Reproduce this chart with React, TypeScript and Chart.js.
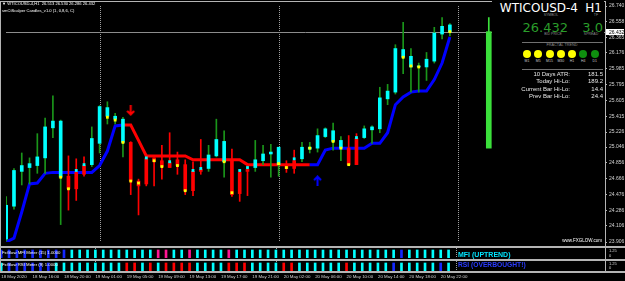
import React, { useEffect, useRef } from 'react';
import { Chart, registerables } from 'chart.js';

Chart.register(...registerables);
Chart.defaults.font.family = "'Liberation Sans', Arial, sans-serif";

// ---------------- data ----------------
const timeLabelBars = [0, 4, 8, 12, 16, 20, 24, 28, 32, 36, 40, 44, 48, 52, 56];
const timeLabels = ['18 May 2020', '18 May 16:00', '18 May 20:00', '19 May 01:00', '19 May 05:00', '19 May 09:00', '19 May 13:00', '19 May 17:00', '19 May 21:00', '20 May 02:00', '20 May 06:00', '20 May 10:00', '20 May 14:00', '20 May 18:00', '20 May 22:00'];
const daySeparatorBars = [12, 35, 58];
const priceTicks = [26.740, 26.558, 26.365, 26.176, 25.985, 25.795, 25.605, 25.415, 25.226, 25.046, 24.856, 24.666, 24.476, 24.286, 24.106, 23.906];
const priceMin = 23.906;
const priceMax = 26.740;
const bidPrice = 26.432;

const opens = [23.941, 24.336, 24.754, 24.800, 24.824, 24.916, 25.277, 24.684, 24.696, 24.742,
  24.824, 24.835, 25.091, 25.416, 25.381, 25.102, 25.102, 24.638, 24.905, 24.916,
  24.882, 24.858, 24.893, 24.835, 24.754, 24.777, 24.789, 24.940, 24.870, 24.893,
  24.742, 24.777, 24.800, 24.882, 24.963, 24.835, 24.835, 24.882, 24.905, 25.021,
  25.033, 25.172, 25.114, 25.033, 25.033, 25.149, 25.160, 25.253, 25.265, 25.625,
  25.706, 26.124, 26.008, 26.008, 26.008, 26.078, 26.403, 26.513];
const highs = [24.452, 24.789, 24.975, 24.916, 25.207, 25.393, 25.660, 25.370, 24.940, 24.905,
  24.928, 25.288, 25.544, 25.590, 25.451, 25.404, 25.110, 24.661, 24.951, 24.916,
  25.067, 25.218, 24.986, 24.893, 24.870, 25.137, 25.067, 25.381, 25.242, 25.021,
  24.765, 24.812, 25.126, 25.067, 25.079, 25.044, 24.882, 25.009, 25.102, 25.102,
  25.265, 25.277, 25.335, 25.172, 25.184, 25.207, 25.300, 25.300, 25.764, 25.799,
  26.275, 26.543, 26.229, 26.055, 26.182, 26.484, 26.601, 26.530];
const lows = [23.918, 24.301, 24.591, 24.603, 24.731, 24.731, 25.160, 24.115, 24.289, 24.405,
  24.696, 24.812, 24.975, 25.323, 25.323, 24.928, 24.475, 24.231, 24.580, 24.580,
  24.661, 24.800, 24.719, 24.475, 24.463, 24.719, 24.754, 24.928, 24.684, 24.452,
  24.394, 24.463, 24.754, 24.835, 24.684, 24.696, 24.742, 24.731, 24.870, 24.975,
  24.986, 25.160, 25.009, 24.882, 24.835, 24.835, 25.149, 25.091, 25.218, 25.555,
  25.683, 25.927, 25.706, 25.706, 25.846, 26.055, 26.345, 26.380];
const closes = [24.347, 24.765, 24.824, 24.847, 24.928, 25.288, 25.358, 25.358, 24.545, 24.545,
  24.719, 25.149, 25.532, 25.520, 25.416, 25.381, 24.638, 24.580, 24.603, 24.870,
  24.812, 24.800, 24.824, 24.522, 24.522, 24.754, 24.951, 25.137, 25.114, 24.475,
  24.487, 24.754, 24.893, 24.963, 24.986, 25.044, 24.789, 24.789, 25.044, 25.044,
  25.184, 25.265, 25.242, 25.126, 24.835, 24.835, 25.265, 25.288, 25.637, 25.718,
  26.229, 26.217, 26.136, 26.020, 26.101, 26.415, 26.496, 26.432];
// u = cyan body / green wick, d = red body / red wick
const candleKinds = 'uuuuuuuu' + 'ddd' + 'uuuuu' + 'dddddddddd' + 'uuu' + 'ddd' + 'uuuu' + 'dd' + 'uuuuuu' + 'dd' + 'uuuuuuuuuuuu';

const trendLine = [23.906, 23.952, 24.266, 24.603, 24.614, 24.731, 24.742, 24.742, 24.742, 24.742,
  24.742, 24.742, 24.824, 24.998, 25.300, 25.311, 25.311, 25.126, 24.940, 24.940,
  24.940, 24.940, 24.940, 24.940, 24.893, 24.893, 24.893, 24.893, 24.893, 24.893,
  24.893, 24.835, 24.835, 24.835, 24.835, 24.835, 24.835, 24.835, 24.835, 24.835,
  24.835, 25.009, 25.033, 25.033, 25.033, 25.033, 25.033, 25.091, 25.091, 25.218,
  25.555, 25.648, 25.706, 25.718, 25.718, 25.857, 26.055, 26.368];
const trendDirs = 'uuuuuuuuuuuuuuu' + 'dddddddddddddddddddddddd' + 'uuuuuuuuuuuuuuuuuuu';

const yellowBars = [7, 8, 13, 14, 15, 16, 17, 19, 20, 22, 23, 28, 29, 35, 36, 39, 42, 43, 44, 51, 52, 53, 57];
const yellowPrices = [24.684, 24.545, 25.404, 25.370, 25.102, 24.638, 24.614, 24.882, 24.812, 24.824, 24.522, 24.870, 24.498, 24.847, 24.800, 25.033, 25.114, 25.033, 24.835, 26.124, 26.020, 26.008, 26.432];
const capBars = [9, 10, 18, 21, 24, 25, 30, 31, 37, 45];
const capPrices = [24.765, 24.835, 24.916, 24.870, 24.765, 24.789, 24.765, 24.800, 24.905, 25.160];
const sellArrowBars = [16];
const sellArrowPrices = [25.486];
const buyArrowBars = [40];
const buyArrowPrices = [24.643];

const rangeBarIndex = 62;
const rangeLow = 25.033;
const rangeHigh = 26.432;
const rangeTop = 26.601;

const meterLevel = 1;
const mfiStates = 'bbbbbbbbb' + 'ccccccccccc' + 'mm' + 'cc' + 'm' + 'cccc' + 'm' + 'ccccccccccccccccccccc' + 'b' + 'cccccc';
const rsiStates = 'c' + 'bbbbbb' + 'ccccccccc' + 'rr' + 'c' + 'r' + 'c' + 'rrrr' + 'cccc' + 'rrr' + 'cccc' + 'rr' + 'cccccc' + 'r' + 'ccccc' + 'b' + 'ccccc' + 'b' + 'c';

const fractalFrames = ['M1', 'M5', 'M15', 'M30', 'H1', 'H4', 'D1'];
const fractalStates = ['y', 'y', 'y', 'y', 'y', 'g', 'g'];
const statLabels = ['10 Days ATR:', 'Today Hi-Lo:', 'Current Bar Hi-Lo:', 'Prev Bar Hi-Lo:'];
const statValues = ['181.5', '189.2', '14.4', '24.4'];

// ---------------- styling ----------------
const xMin = -0.025;
const xMax = 76.93;
const CYAN = '#00ffff';
const RED = '#ff0000';
const BLUE = '#0000ff';
const WICK_GREEN = '#1a961a';
const YELLOW = '#ffff00';
const LIME = '#3be03b';
const FRAME = '#b4b4b4';
const AXIS_TXT = '#d2d2d2';
const METER_COLORS: Record<string, string> = { c: '#00ffff', b: '#1428ff', m: '#ff1493', r: '#ff0000' };
const FRACTAL_COLORS: Record<string, string> = { y: '#ffff00', g: '#0f8f0f' };

const separatorPlugin = {
  id: 'daySeparators',
  beforeDatasetsDraw(chart: any) {
    const { ctx, chartArea: a, scales } = chart;
    ctx.save();
    ctx.strokeStyle = '#a0a0a0';
    ctx.lineWidth = 1;
    ctx.setLineDash([1, 1]);
    for (const b of daySeparatorBars) {
      const x = Math.round(scales.x.getPixelForValue(b)) + 0.5;
      ctx.beginPath();
      ctx.moveTo(x, a.top);
      ctx.lineTo(x, a.bottom);
      ctx.stroke();
    }
    ctx.restore();
  },
};

const bidPlugin = {
  id: 'bidLine',
  beforeDatasetsDraw(chart: any) {
    const { ctx, chartArea: a, scales } = chart;
    const y = Math.round(scales.y.getPixelForValue(bidPrice)) + 0.5;
    ctx.save();
    ctx.strokeStyle = '#8c8c8c';
    ctx.lineWidth = 1;
    ctx.beginPath();
    ctx.moveTo(a.left, y);
    ctx.lineTo(a.right, y);
    ctx.stroke();
    ctx.restore();
  },
  afterDraw(chart: any) {
    const { ctx, scales, chartArea: a } = chart;
    const y = Math.round(scales.y.getPixelForValue(bidPrice));
    ctx.save();
    ctx.fillStyle = '#ffffff';
    ctx.fillRect(a.right + 1, y - 3, 18, 6);
    ctx.fillStyle = '#000000';
    ctx.font = "5px 'Liberation Sans', Arial, sans-serif";
    ctx.textBaseline = 'middle';
    ctx.fillText(bidPrice.toFixed(3), a.right + 4, y + 0.5);
    ctx.restore();
  },
};

function makeArrow(color: string, up: boolean) {
  const c = document.createElement('canvas');
  c.width = 9;
  c.height = 11;
  const g = c.getContext('2d') as CanvasRenderingContext2D;
  g.strokeStyle = color;
  g.lineWidth = 2;
  g.beginPath();
  if (up) {
    g.moveTo(4.5, 1.5); g.lineTo(4.5, 11);
    g.moveTo(1, 5); g.lineTo(4.5, 1.5); g.lineTo(8, 5);
  } else {
    g.moveTo(4.5, 0); g.lineTo(4.5, 9.5);
    g.moveTo(1, 6); g.lineTo(4.5, 9.5); g.lineTo(8, 6);
  }
  g.stroke();
  return c;
}

const hiddenX = { type: 'linear', min: xMin, max: xMax, offset: false, display: false };

function makeMain(canvas: HTMLCanvasElement) {
  const idx = highs.map((_, i) => i);
  const sellArrow = makeArrow(RED, false);
  const buyArrow = makeArrow(BLUE, true);
  return new Chart(canvas, {
    type: 'bar',
    data: {
      datasets: [
        {
          type: 'line',
          data: idx.map((i) => ({ x: i, y: trendLine[i] })),
          borderColor: BLUE,
          borderWidth: 3,
          pointRadius: 0,
          tension: 0,
          segment: { borderColor: (c: any) => (trendDirs[c.p0DataIndex] === 'u' ? BLUE : RED) },
          order: 6,
        },
        {
          type: 'bar',
          data: idx.map((i) => ({ x: i, y: [lows[i], highs[i]] })),
          backgroundColor: idx.map((i) => (candleKinds[i] === 'u' ? WICK_GREEN : RED)),
          barThickness: 1,
          borderWidth: 0,
          grouped: false,
          order: 5,
        },
        {
          type: 'bar',
          data: idx.map((i) => ({ x: i, y: [Math.min(opens[i], closes[i]), Math.max(opens[i], closes[i])] })),
          backgroundColor: idx.map((i) => (candleKinds[i] === 'u' ? CYAN : RED)),
          barThickness: 3,
          minBarLength: 1,
          borderWidth: 0,
          grouped: false,
          order: 4,
        },
        {
          type: 'bar',
          data: [{ x: rangeBarIndex, y: [rangeHigh, rangeTop] }],
          backgroundColor: LIME,
          barThickness: 1,
          borderWidth: 0,
          grouped: false,
          order: 5,
        },
        {
          type: 'bar',
          data: [{ x: rangeBarIndex, y: [rangeLow, rangeHigh] }],
          backgroundColor: LIME,
          barThickness: 5,
          borderWidth: 0,
          grouped: false,
          order: 4,
        },
        {
          type: 'line',
          showLine: false,
          data: capBars.map((b, k) => ({ x: b, y: capPrices[k] })),
          pointStyle: 'rect',
          pointRadius: 2,
          backgroundColor: CYAN,
          borderWidth: 0,
          order: 2,
        },
        {
          type: 'line',
          showLine: false,
          data: yellowBars.map((b, k) => ({ x: b, y: yellowPrices[k] })),
          pointStyle: 'rect',
          pointRadius: 2,
          backgroundColor: YELLOW,
          borderWidth: 0,
          order: 1,
        },
        {
          type: 'line',
          showLine: false,
          data: sellArrowBars.map((b, k) => ({ x: b, y: sellArrowPrices[k] })),
          pointStyle: sellArrow,
          pointRadius: 5,
          order: 0,
        },
        {
          type: 'line',
          showLine: false,
          data: buyArrowBars.map((b, k) => ({ x: b, y: buyArrowPrices[k] })),
          pointStyle: buyArrow,
          pointRadius: 5,
          order: 0,
        },
      ] as any,
    },
    options: {
      animation: false,
      responsive: false,
      events: [],
      layout: { padding: { left: 1, top: 2, right: 0, bottom: 3 } },
      plugins: { legend: { display: false }, tooltip: { enabled: false } },
      scales: {
        x: hiddenX as any,
        y: {
          position: 'right',
          min: priceMin,
          max: priceMax,
          afterBuildTicks: (s: any) => {
            s.ticks = priceTicks.map((v) => ({ value: v }));
          },
          afterFit: (s: any) => {
            s.width = 20;
            s.paddingTop = 0;
            s.paddingBottom = 0;
          },
          ticks: {
            autoSkip: false,
            padding: 2,
            color: AXIS_TXT,
            font: { size: 5 },
            callback: (v: any) => Number(v).toFixed(3),
          },
          grid: { drawOnChartArea: false, drawTicks: true, tickLength: 2, color: FRAME },
          border: { display: false },
        } as any,
      },
    },
    plugins: [separatorPlugin, bidPlugin],
  } as any);
}

function makeMeter(canvas: HTMLCanvasElement, states: string, showX: boolean) {
  const idx = states.split('').map((_, i) => i);
  const x = showX
    ? {
        type: 'linear',
        min: xMin,
        max: xMax,
        offset: false,
        position: 'bottom',
        afterBuildTicks: (s: any) => {
          s.ticks = timeLabelBars.map((v) => ({ value: v }));
        },
        afterFit: (s: any) => {
          s.height = 9;
          s.paddingLeft = 0;
          s.paddingRight = 0;
        },
        ticks: {
          autoSkip: false,
          maxRotation: 0,
          minRotation: 0,
          align: 'start',
          padding: 1,
          color: AXIS_TXT,
          font: { size: 4.4 },
          callback: (_v: any, i: number) => timeLabels[i],
        },
        grid: { drawOnChartArea: false, drawTicks: true, tickLength: 2, color: FRAME, offset: false },
        border: { display: false },
      }
    : hiddenX;
  return new Chart(canvas, {
    type: 'bar',
    data: {
      datasets: [
        {
          data: idx.map((i) => ({ x: i, y: [0, meterLevel] })),
          backgroundColor: idx.map((i) => METER_COLORS[states[i]]),
          barThickness: 2,
          borderWidth: 0,
          grouped: false,
        },
      ] as any,
    },
    options: {
      animation: false,
      responsive: false,
      events: [],
      layout: { padding: { left: 1, right: 20, top: 0, bottom: 0 } },
      plugins: { legend: { display: false }, tooltip: { enabled: false } },
      scales: {
        x: x as any,
        y: { min: 0, max: 1.25, display: false },
      },
    },
    plugins: [separatorPlugin],
  } as any);
}

type TxtProps = {
  x: number;
  y: number;
  s: number;
  c: string;
  a?: 'l' | 'r' | 'c';
  b?: boolean;
  f?: string;
  children: string;
};

function Txt({ x, y, s, c, a = 'l', b = false, f = "'Liberation Sans', Arial, sans-serif", children }: TxtProps) {
  const style: React.CSSProperties = {
    position: 'absolute',
    top: y - 0.49 * s,
    fontSize: s,
    lineHeight: `${s}px`,
    color: c,
    whiteSpace: 'pre',
    fontFamily: f,
    fontWeight: b ? 700 : 400,
  };
  if (a === 'l') style.left = x;
  else if (a === 'r') style.right = 625 - x;
  else {
    style.left = x;
    style.transform = 'translateX(-50%)';
  }
  return <div style={style}>{children}</div>;
}

const DJ = "'DejaVu Sans', sans-serif";
const GRAY = '#8a8a8a';
const BIGGREEN = '#2a9d2a';

export default function App() {
  const mainRef = useRef<HTMLCanvasElement>(null);
  const mfiRef = useRef<HTMLCanvasElement>(null);
  const rsiRef = useRef<HTMLCanvasElement>(null);

  useEffect(() => {
    document.body.style.margin = '0';
    document.body.style.background = '#000';
    const charts = [
      makeMain(mainRef.current as HTMLCanvasElement),
      makeMeter(mfiRef.current as HTMLCanvasElement, mfiStates, false),
      makeMeter(rsiRef.current as HTMLCanvasElement, rsiStates, true),
    ];
    return () => charts.forEach((c) => c.destroy());
  }, []);

  const fractalX = [527, 538.3, 549.5, 560.8, 572, 583.3, 594.8];
  const statY = [74, 81, 88.5, 95.5];
  const line = (left: number, top: number, width: number, height: number, bg: string) => (
    <div style={{ position: 'absolute', left, top, width, height, background: bg }} />
  );

  return (
    <div style={{ position: 'relative', width: 625, height: 281, background: '#000', overflow: 'hidden' }}>
      <canvas ref={mainRef} width={625} height={248} style={{ position: 'absolute', left: 0, top: 0 }} />
      <canvas ref={mfiRef} width={625} height={10} style={{ position: 'absolute', left: 0, top: 248 }} />
      <canvas ref={rsiRef} width={625} height={19} style={{ position: 'absolute', left: 0, top: 261 }} />

      {/* frames */}
      {line(0, 1, 606, 1, FRAME)}
      {line(0, 1, 1, 272, FRAME)}
      {line(605, 1, 1, 272, FRAME)}
      {line(0, 246, 625, 2, FRAME)}
      {line(0, 259, 625, 2, FRAME)}
      {line(0, 271, 625, 2, FRAME)}

      {/* chart header */}
      <Txt x={2} y={4.5} s={4.1} c="#ffffff">{'▼ WTICOUSD-4,H1  26.513 26.530 26.286 26.432'}</Txt>
      <Txt x={2} y={11} s={4.1} c="#ffffff">{'smCtScalper Candles_v1.0 (1, 0,8,6, C)'}</Txt>

      {/* dashboard */}
      <div style={{ position: 'absolute', left: 492, top: 0, width: 112, height: 100, background: '#000' }} />
      <Txt x={578} y={8} s={12} c="#ffffff" a="r" f={DJ}>WTICOUSD-4</Txt>
      <Txt x={602} y={8} s={12} c="#ffffff" a="r" f={DJ}>H1</Txt>
      <Txt x={551} y={16} s={3.5} c={GRAY} a="c">SYMBOL</Txt>
      <Txt x={596} y={16} s={3.5} c={GRAY} a="c">TF</Txt>
      <Txt x={568} y={27} s={13} c={BIGGREEN} a="r" f={DJ}>26.432</Txt>
      <Txt x={603} y={27} s={13} c={BIGGREEN} a="r" f={DJ}>3.0</Txt>
      <Txt x={553} y={35} s={3.5} c={GRAY} a="c">BID PRICE</Txt>
      <Txt x={591} y={35} s={3.5} c={GRAY} a="c">SPREAD</Txt>
      {line(522, 42, 81, 1, '#707070')}
      <Txt x={562} y={46} s={3.8} c={GRAY} a="c">FRACTAL TREND</Txt>
      {fractalX.map((x, i) => (
        <div
          key={'fc' + i}
          style={{ position: 'absolute', left: x - 4, top: 50, width: 8, height: 8, borderRadius: '50%', background: FRACTAL_COLORS[fractalStates[i]] }}
        />
      ))}
      {fractalX.map((x, i) => (
        <Txt key={'fl' + i} x={x} y={62} s={3.5} c="#c0c0c0" a="c">{fractalFrames[i]}</Txt>
      ))}
      {line(522, 69, 81, 1, '#707070')}
      {statLabels.map((t, i) => (
        <Txt key={'sl' + i} x={570} y={statY[i]} s={6} c="#e6e6e6" a="r">{t}</Txt>
      ))}
      {statValues.map((t, i) => (
        <Txt key={'sv' + i} x={603} y={statY[i]} s={6} c="#e6e6e6" a="r">{t}</Txt>
      ))}
      <Txt x={602} y={241} s={4.5} c="#ffffff" a="r">www.FXGLOW.com</Txt>

      {/* indicator panels */}
      <Txt x={2} y={253.5} s={4.3} c="#ffffff">FxGlow MFI Meter (15) 1.0000</Txt>
      <Txt x={2} y={265.5} s={4.3} c="#ffffff">FxGlow RSI Meter (9) 1.0000</Txt>
      <Txt x={458} y={254.5} s={7} c="#00e5ff" b>MFI (UPTREND)</Txt>
      <Txt x={458} y={265.5} s={6.7} c="#2a3cff" b>RSI (OVERBOUGHT!)</Txt>
      <Txt x={609} y={250.5} s={4} c={AXIS_TXT}>1.25</Txt>
      <Txt x={609} y={255.5} s={4} c={AXIS_TXT}>0</Txt>
      <Txt x={609} y={263.5} s={4} c={AXIS_TXT}>1.25</Txt>
      <Txt x={609} y={268} s={4} c={AXIS_TXT}>0</Txt>
    </div>
  );
}
